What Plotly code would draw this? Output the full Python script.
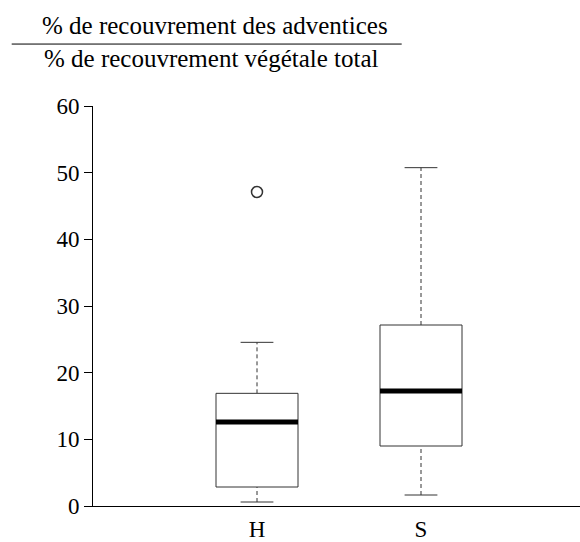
import plotly.graph_objects as go

# ---- data ----
categories = ["H", "S"]
lower_whisker = [0.6, 1.65]
q1_values = [2.85, 9.0]
medians = [12.6, 17.25]
q3_values = [16.9, 27.15]
upper_whisker = [24.55, 50.75]
outlier_groups = ["H"]
outlier_values = [47.1]
y_ticks = [0, 10, 20, 30, 40, 50, 60]

title_top = "% de recouvrement des adventices"
title_bottom = "% de recouvrement végétale total"

FONT = "Liberation Serif"
LINE = "#333333"
W, H = 580, 542
ML, MR, MT, MB = 93, 0, 106, 26
PW = W - ML - MR
PH = H - MT - MB

box_half = 0.25
cap_half = 0.1

fig = go.Figure()
shapes = []
for i, cat in enumerate(categories):
    xc = i + 1
    # whiskers (dashed)
    shapes.append(dict(type="line", xref="x", yref="y", x0=xc, x1=xc,
                       y0=q3_values[i], y1=upper_whisker[i],
                       line=dict(color=LINE, width=1, dash="4px,3px")))
    shapes.append(dict(type="line", xref="x", yref="y", x0=xc, x1=xc,
                       y0=lower_whisker[i], y1=q1_values[i],
                       line=dict(color=LINE, width=1, dash="4px,3px")))
    # caps
    for v in (lower_whisker[i], upper_whisker[i]):
        shapes.append(dict(type="line", xref="x", yref="y",
                           x0=xc - cap_half, x1=xc + cap_half, y0=v, y1=v,
                           line=dict(color=LINE, width=1)))
    # box
    shapes.append(dict(type="rect", xref="x", yref="y",
                       x0=xc - box_half, x1=xc + box_half,
                       y0=q1_values[i], y1=q3_values[i],
                       line=dict(color=LINE, width=1), fillcolor="white"))
    # median
    shapes.append(dict(type="line", xref="x", yref="y",
                       x0=xc - box_half, x1=xc + box_half,
                       y0=medians[i], y1=medians[i],
                       line=dict(color="black", width=5)))

def px_to_paper_x(px):
    return (px - ML) / PW

def px_to_paper_y(py):
    return (H - MB - py) / PH

# fraction bar of the title
shapes.append(dict(type="line", xref="paper", yref="paper",
                   x0=px_to_paper_x(11.7), x1=px_to_paper_x(401.7),
                   y0=px_to_paper_y(42.5), y1=px_to_paper_y(42.5),
                   line=dict(color="black", width=1)))

outlier_x = [categories.index(g) + 1 for g in outlier_groups]
fig.add_trace(go.Scatter(
    x=outlier_x, y=outlier_values, mode="markers",
    marker=dict(symbol="circle-open", size=11, color=LINE, line=dict(width=1.5)),
    showlegend=False, hoverinfo="skip", cliponaxis=False))

annotations = [
    dict(text=title_top, xref="paper", yref="paper",
         x=px_to_paper_x(215), y=px_to_paper_y(23), xanchor="center", yanchor="middle",
         showarrow=False, font=dict(family=FONT, size=25, color="black")),
    dict(text=title_bottom, xref="paper", yref="paper",
         x=px_to_paper_x(211), y=px_to_paper_y(57), xanchor="center", yanchor="middle",
         showarrow=False, font=dict(family=FONT, size=25, color="black")),
]

fig.update_layout(
    width=W, height=H,
    margin=dict(l=ML, r=MR, t=MT, b=MB, pad=0),
    plot_bgcolor="white", paper_bgcolor="white",
    shapes=shapes, annotations=annotations,
    font=dict(family=FONT, size=23, color="black"),
    showlegend=False,
    xaxis=dict(range=[0, PW / 164.0], tickvals=[1, 2], ticktext=categories,
               showgrid=False, zeroline=False, showline=True, linecolor="black",
               linewidth=1, ticks="", ticklabelstandoff=2,
               tickfont=dict(family=FONT, size=23)),
    yaxis=dict(range=[0, 60], tickvals=y_ticks, showgrid=False, zeroline=False,
               showline=True, linecolor="black", linewidth=1, ticks="outside",
               ticklen=8, tickcolor="black", tickfont=dict(family=FONT, size=23)),
)

fig.write_html(
    "out.html",
    config={"displayModeBar": False},
    post_script="document.body.style.margin='0';document.body.style.overflow='hidden';",
)
